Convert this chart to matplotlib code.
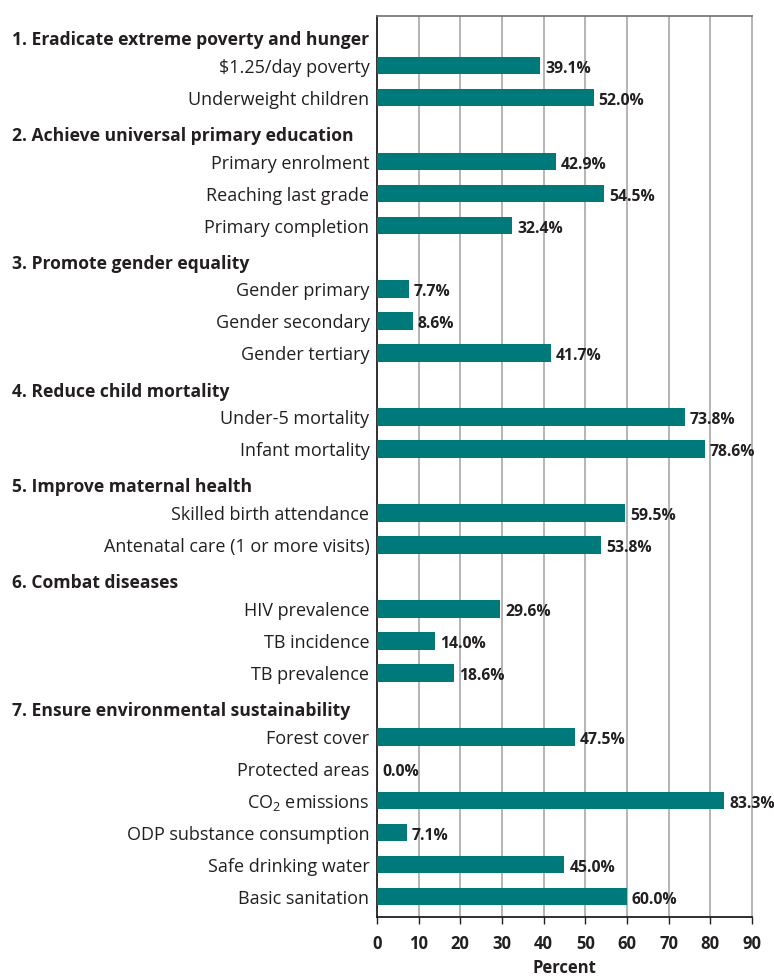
import matplotlib
matplotlib.use("Agg")
import matplotlib.pyplot as plt
import matplotlib.transforms as mtrans

plt.rcParams['font.family'] = ['Open Sans', 'DejaVu Sans']
plt.rcParams['mathtext.fontset'] = 'custom'
plt.rcParams['mathtext.rm'] = 'Open Sans'

headers = [
    "1. Eradicate extreme poverty and hunger",
    "2. Achieve universal primary education",
    "3. Promote gender equality",
    "4. Reduce child mortality",
    "5. Improve maternal health",
    "6. Combat diseases",
    "7. Ensure environmental sustainability",
]
group_items = [
    ["$1.25/day poverty", "Underweight children"],
    ["Primary enrolment", "Reaching last grade", "Primary completion"],
    ["Gender primary", "Gender secondary", "Gender tertiary"],
    ["Under-5 mortality", "Infant mortality"],
    ["Skilled birth attendance", "Antenatal care (1 or more visits)"],
    ["HIV prevalence", "TB incidence", "TB prevalence"],
    ["Forest cover", "Protected areas", r"CO$_\mathregular{2}$ emissions",
     "ODP substance consumption", "Safe drinking water", "Basic sanitation"],
]
group_values = [
    [39.1, 52.0],
    [42.9, 54.5, 32.4],
    [7.7, 8.6, 41.7],
    [73.8, 78.6],
    [59.5, 53.8],
    [29.6, 14.0, 18.6],
    [47.5, 0.0, 83.3, 7.1, 45.0, 60.0],
]
xticks = [0, 10, 20, 30, 40, 50, 60, 70, 80, 90]
xlabel = "Percent"

BAR = '#00797a'
TXT = '#231f20'

fig = plt.figure(figsize=(7.74, 9.80), dpi=100)
ax = fig.add_axes([0.487, 0.0643, 0.9716 - 0.487, 0.9837 - 0.0643])
hdr_tr = mtrans.blended_transform_factory(fig.transFigure, ax.transData)

row = 0
for h, items, vals in zip(headers, group_items, group_values):
    ax.text(12 / 774, row + 0.2, h, transform=hdr_tr,
            ha='left', va='center', fontsize=12.6, fontweight='bold', color=TXT,
            clip_on=False)
    row += 1
    for lab, v in zip(items, vals):
        ax.barh(row, v, height=0.55, color=BAR, zorder=3)
        ax.text(-1.8, row + 0.07, lab, ha='right', va='center', fontsize=13,
                color=TXT, clip_on=False)
        ax.text(v + 1.2, row + 0.1, f"{v:.1f}%", ha='left', va='center',
                fontsize=11.3, fontweight='bold', color=TXT, clip_on=False, zorder=4)
        row += 1

ax.set_xlim(0, 90)
ax.set_ylim(row - 1 + 0.64, -0.55)
ax.set_yticks([])
ax.set_xticks(xticks)
ax.set_xticklabels([str(t) for t in xticks], fontsize=12, fontweight='bold', color=TXT)
ax.tick_params(axis='x', direction='out', length=5, width=1, color=TXT, pad=8)
ax.set_xlabel(xlabel, fontsize=12, fontweight='bold', color=TXT, labelpad=4)
for t in xticks[1:-1]:
    ax.axvline(t, color='#a8a8a8', lw=1.2, zorder=1)
ax.spines['left'].set_color(TXT)
ax.spines['left'].set_linewidth(1.3)
ax.spines['bottom'].set_color(TXT)
ax.spines['bottom'].set_linewidth(1.3)
ax.spines['top'].set_color('#707070')
ax.spines['top'].set_linewidth(1.2)
ax.spines['right'].set_color('#a8a8a8')
ax.spines['right'].set_linewidth(1.2)

fig.savefig('out.png', dpi=100)
